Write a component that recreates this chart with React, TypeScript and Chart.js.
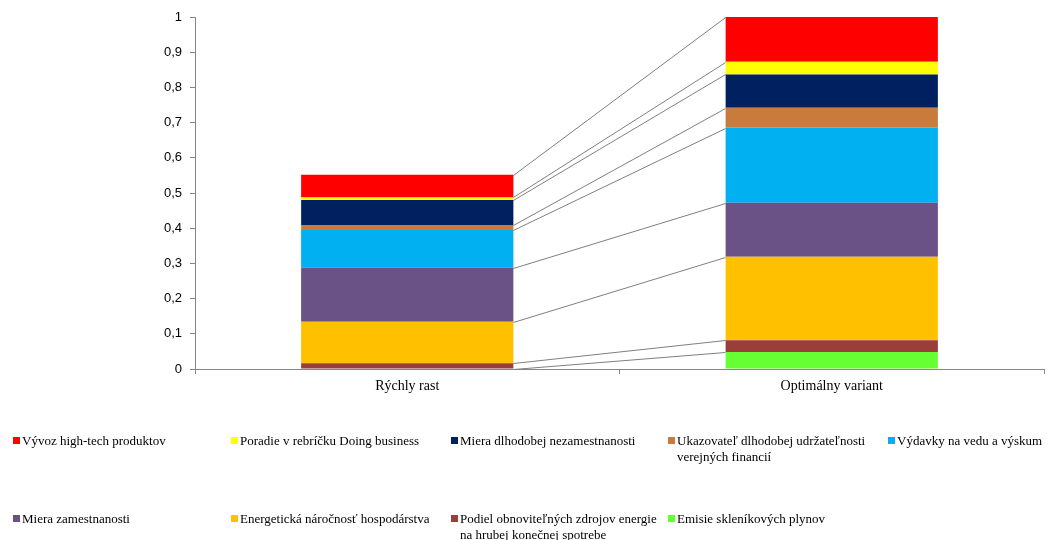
import React, { useEffect, useRef } from "react";
import { Chart, registerables } from "chart.js";

Chart.register(...registerables);

// Scenario categories on the x axis
const categories = ["Rýchly rast", "Optimálny variant"];

// Indicator names, stacked from the bottom of each bar upwards
const seriesNames = [
  "Emisie skleníkových plynov",
  "Podiel obnoviteľných zdrojov energie\nna hrubej konečnej spotrebe",
  "Energetická náročnosť hospodárstva",
  "Miera zamestnanosti",
  "Výdavky na vedu a výskum",
  "Ukazovateľ dlhodobej udržateľnosti\nverejných financií",
  "Miera dlhodobej nezamestnanosti",
  "Poradie v rebríčku Doing business",
  "Vývoz high-tech produktov",
];

// Weighted contribution of each indicator: [Rýchly rast, Optimálny variant]
const emisie = [0, 0.048];
const podielOze = [0.016, 0.034];
const energetickaNarocnost = [0.118, 0.237];
const mieraZamestnanosti = [0.154, 0.153];
const vydavkyVaV = [0.107, 0.214];
const udrzatelnost = [0.014, 0.056];
const dlhodobaNezamestnanost = [0.071, 0.095];
const doingBusiness = [0.0075, 0.036];
const vyvozHighTech = [0.0645, 0.127];

const seriesValues = [
  emisie,
  podielOze,
  energetickaNarocnost,
  mieraZamestnanosti,
  vydavkyVaV,
  udrzatelnost,
  dlhodobaNezamestnanost,
  doingBusiness,
  vyvozHighTech,
];

const seriesColors = [
  "#66FF33",
  "#9B3D39",
  "#FFC000",
  "#6A5186",
  "#00B0F0",
  "#C97B3C",
  "#002060",
  "#FFFF00",
  "#FF0000",
];

// Y axis tick values
const yTicks = [0, 0.1, 0.2, 0.3, 0.4, 0.5, 0.6, 0.7, 0.8, 0.9, 1];

const formatTick = (v: number) =>
  v === 0 || v === 1 ? String(v) : v.toFixed(1).replace(".", ",");

// Connects the top of every segment of the first bar with the matching
// segment of the second bar (Excel-style series lines).
const seriesLinesPlugin = {
  id: "seriesLines",
  beforeDatasetsDraw(chart: any) {
    const ctx = chart.ctx;
    ctx.save();
    ctx.strokeStyle = "#7F7F7F";
    ctx.lineWidth = 1;
    chart.data.datasets.forEach((_: any, i: number) => {
      const meta = chart.getDatasetMeta(i);
      const a = meta.data[0] as any;
      const b = meta.data[1] as any;
      if (!a || !b) return;
      const pa = a.getProps(["x", "y", "width"], true);
      const pb = b.getProps(["x", "y", "width"], true);
      ctx.beginPath();
      ctx.moveTo(pa.x + pa.width / 2, Math.round(pa.y) + 0.5);
      ctx.lineTo(pb.x - pb.width / 2, Math.round(pb.y) + 0.5);
      ctx.stroke();
    });
    ctx.restore();
  },
};

const legendColumns = [13, 231, 451, 668, 888];
const legendRows = [433, 511];

export default function App() {
  const canvasRef = useRef<HTMLCanvasElement | null>(null);

  useEffect(() => {
    if (!canvasRef.current) return;
    const chart = new Chart(canvasRef.current, {
      type: "bar",
      data: {
        labels: categories,
        datasets: seriesValues.map((values, i) => ({
          label: seriesNames[i].replace("\n", " "),
          data: values,
          backgroundColor: seriesColors[i],
          borderWidth: 0,
          barPercentage: 0.5,
          categoryPercentage: 1,
        })),
      },
      options: {
        responsive: false,
        animation: false,
        devicePixelRatio: 1,
        layout: { padding: { left: 0, right: 3, top: 17, bottom: 0 } },
        plugins: {
          legend: { display: false },
          tooltip: { enabled: false },
          title: { display: false },
        },
        scales: {
          x: {
            stacked: true,
            afterFit(scale: any) {
              scale.height = 171;
            },
            grid: {
              offset: true,
              drawOnChartArea: false,
              tickLength: 5,
              color: "#868686",
            },
            border: { color: "#868686", width: 1 },
            ticks: {
              color: "#000",
              padding: 4,
              font: { family: "Liberation Serif", size: 14 },
            },
          },
          y: {
            stacked: true,
            min: 0,
            max: 1,
            afterFit(scale: any) {
              scale.width = 195;
            },
            afterBuildTicks(scale: any) {
              scale.ticks = yTicks.map((v) => ({ value: v }));
            },
            grid: {
              drawOnChartArea: false,
              tickLength: 5,
              color: "#868686",
            },
            border: { color: "#868686", width: 1 },
            ticks: {
              color: "#000",
              padding: 8,
              font: { family: "Liberation Sans", size: 13 },
              callback: (v: any) => formatTick(Number(v)),
            },
          },
        },
      },
      plugins: [seriesLinesPlugin],
    });
    return () => chart.destroy();
  }, []);

  // Legend lists the series top-down, as they appear in the bars
  const legendOrder = seriesNames.map((_, i) => seriesNames.length - 1 - i);

  return (
    <div
      style={{
        position: "fixed",
        left: 0,
        top: 0,
        width: 1047,
        height: 540,
        background: "#fff",
      }}
    >
      <canvas ref={canvasRef} width={1047} height={540} style={{ display: "block" }} />
      {legendOrder.map((idx, k) => {
        const col = k % 5;
        const row = Math.floor(k / 5);
        return (
          <div
            key={idx}
            style={{
              position: "absolute",
              left: legendColumns[col],
              top: legendRows[row],
              display: "flex",
              alignItems: "flex-start",
              fontFamily: "'Liberation Serif', serif",
              fontSize: 13,
              lineHeight: "16px",
              color: "#000",
              whiteSpace: "pre",
            }}
          >
            <span
              style={{
                width: 7,
                height: 7,
                marginTop: 4,
                marginRight: 2,
                background: seriesColors[idx],
                flex: "none",
              }}
            />
            <span>{seriesNames[idx]}</span>
          </div>
        );
      })}
    </div>
  );
}
